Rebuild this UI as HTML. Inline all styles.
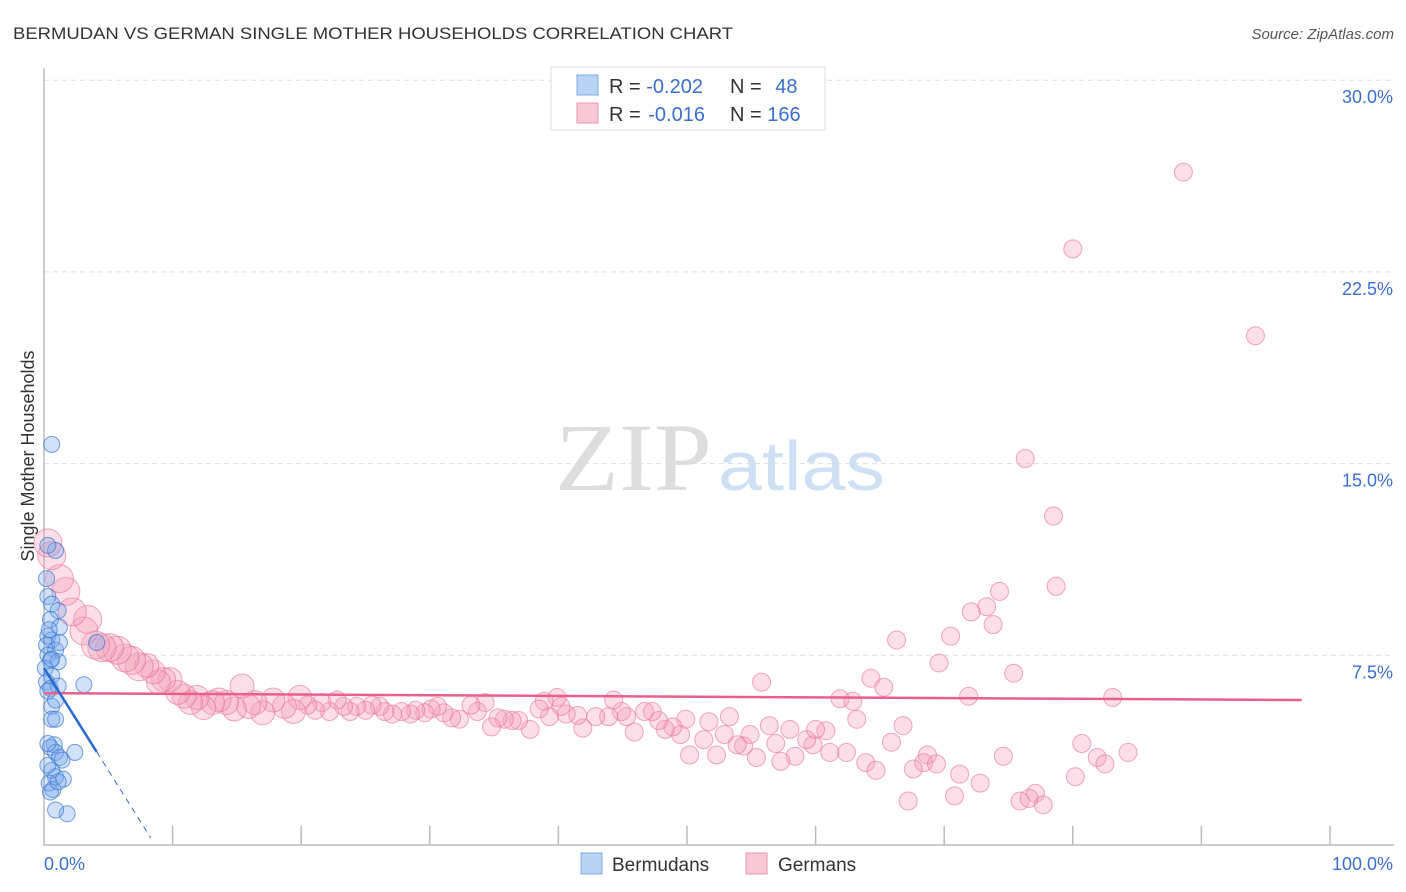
<!DOCTYPE html>
<html><head><meta charset="utf-8"><style>
body{margin:0;background:#fff;font-family:"Liberation Sans",sans-serif;}
svg{display:block}
</style></head><body>
<svg id="chart" width="1406" height="892" viewBox="0 0 1406 892" xmlns="http://www.w3.org/2000/svg">
<text x="13" y="39" font-size="17" fill="#333" textLength="720" lengthAdjust="spacingAndGlyphs" font-family="Liberation Sans, sans-serif">BERMUDAN VS GERMAN SINGLE MOTHER HOUSEHOLDS CORRELATION CHART</text>
<text x="1394" y="39" font-size="15" fill="#555" text-anchor="end" font-style="italic">Source: ZipAtlas.com</text>
<text x="555" y="490" font-size="96" fill="#ddd" textLength="157" lengthAdjust="spacingAndGlyphs" font-family="Liberation Serif, serif">ZIP</text>
<text x="718" y="490" font-size="70" fill="#cfe0f5" textLength="167" lengthAdjust="spacingAndGlyphs">atlas</text>
<g id="grid"></g>
<g id="axes"></g>
<text transform="translate(34,456) rotate(-90)" font-size="18" fill="#333" text-anchor="middle">Single Mother Households</text>
<g id="pink"></g>
<g id="blue"></g>
<g id="trend"></g>
<g>
<rect x="551" y="67" width="274" height="63" fill="#fff" stroke="#ddd"/>
<rect x="577" y="75" width="21" height="20" fill="#b9d3f5" stroke="#7fa8e0"/>
<rect x="577" y="103" width="21" height="20" fill="#f9c8d6" stroke="#eb94ad"/>
<text x="609" y="93" font-size="20" fill="#333">R = <tspan fill="#3a6fd0">-0.202</tspan></text>
<text x="730" y="93" font-size="20" fill="#333">N = <tspan fill="#3a6fd0" dx="8">48</tspan></text>
<text x="609" y="121" font-size="20" fill="#333">R = <tspan fill="#3a6fd0" dx="2">-0.016</tspan></text>
<text x="730" y="121" font-size="20" fill="#333">N = <tspan fill="#3a6fd0">166</tspan></text>
</g>
<g>
<rect x="581" y="853" width="21" height="21" fill="#b9d3f5" stroke="#7fa8e0"/>
<text x="612" y="871" font-size="19" fill="#333">Bermudans</text>
<rect x="746" y="853" width="21" height="21" fill="#f9c8d6" stroke="#eb94ad"/>
<text x="778" y="871" font-size="19" fill="#333">Germans</text>
</g>
</svg>
<script>
const yTicks=[7.5,15,22.5,30];
const yTickLabels=["7.5%","15.0%","22.5%","30.0%"];
const xTickLabels=["0.0%","100.0%"];
const germansX=[76.3,78.5,88.6,80.0,94.2,78.7,74.3,73.3,72.1,73.8,70.5,66.3,69.6,75.4,64.3,65.3,55.8,71.9,83.1,61.9,62.9,63.2,66.8,65.9,80.7,84.3,81.9,82.5,74.6,68.7,68.4,69.4,67.6,71.2,72.8,80.2,70.8,67.2,77.1,75.9,77.7,76.6,63.9,64.7,62.4,61.1,59.8,59.3,60.8,60.0,58.0,56.4,58.4,57.3,55.4,56.9,54.9,54.4,53.9,53.3,52.9,52.3,51.7,51.3,50.2,49.5,49.9,48.9,48.3,47.8,47.3,46.7,45.9,45.3,44.9,44.3,43.9,42.9,41.9,41.5,40.6,40.2,39.9,39.3,38.9,38.5,37.8,36.9,36.4,35.8,35.3,34.8,34.3,33.7,33.2,32.3,31.7,31.1,30.6,30.1,29.6,28.9,28.5,27.8,27.1,26.5,26.1,25.5,25.0,24.3,23.8,23.3,22.8,22.2,21.6,21.1,20.5,19.9,19.4,18.7,17.8,17.0,16.4,15.9,15.4,14.8,14.2,13.6,13.1,12.4,11.9,11.4,10.9,10.4,9.8,9.3,8.9,8.5,8.0,7.4,6.8,6.3,5.7,5.1,4.5,4.0,3.4,3.1,2.2,1.7,1.2,0.6,0.3];
const germansY=[15.2,12.95,26.4,23.4,20.0,10.2,10.0,9.4,9.2,8.7,8.25,8.1,7.2,6.8,6.6,6.25,6.45,5.9,5.85,5.8,5.7,5.0,4.75,4.1,4.05,3.7,3.5,3.25,3.55,3.6,3.3,3.25,3.05,2.85,2.5,2.75,2.0,1.8,2.1,1.8,1.65,1.9,3.3,3.0,3.7,3.7,4.0,4.2,4.55,4.6,4.6,4.75,3.55,3.35,3.5,4.05,4.4,3.95,4.0,5.1,4.4,3.6,4.9,4.2,3.6,4.4,5.0,4.7,4.6,4.95,5.3,5.3,4.5,5.1,5.3,5.75,5.1,5.1,4.65,5.15,5.2,5.5,5.85,5.1,5.7,5.4,4.6,4.95,4.95,5.0,5.05,4.7,5.65,5.3,5.55,5.0,5.05,5.25,5.5,5.4,5.25,5.35,5.2,5.3,5.2,5.3,5.5,5.55,5.35,5.5,5.3,5.5,5.75,5.3,5.65,5.35,5.55,5.85,5.3,5.5,5.75,5.25,5.65,5.5,6.3,5.4,5.65,5.75,5.65,5.45,5.85,5.65,5.9,6.05,6.55,6.55,6.45,6.85,7.1,7.05,7.3,7.4,7.7,7.8,7.8,7.9,8.9,8.45,9.2,10.0,10.5,11.4,11.9];
const bermX=[0.6,0.9,0.3,0.2,0.3,0.6,1.1,0.5,1.2,0.3,0.6,0.2,0.9,0.3,0.5,1.1,0.1,0.6,0.2,0.5,1.1,3.1,4.1,0.6,0.6,0.9,0.8,0.5,0.9,1.2,1.4,2.4,0.6,0.9,1.5,0.4,0.7,0.5,1.8,0.9,0.3,0.3,0.6,0.4,0.9,1.2,0.3,1.1];
const bermY=[15.75,11.6,11.8,10.5,9.8,9.5,9.25,8.9,8.6,8.25,8.1,7.9,7.7,7.5,7.3,7.25,7.0,6.7,6.45,6.2,6.3,6.35,8.0,5.5,5.0,5.0,4.0,3.9,3.7,3.5,3.4,3.7,3.0,2.75,2.65,2.5,2.25,2.15,1.3,1.45,4.05,6.1,7.35,8.5,5.75,8.0,3.2,2.55];
const germanTrend=[6.02,5.75];
const bermTrend=[7.0,-0.8];
const NS="http://www.w3.org/2000/svg";
const X0=44,X1=1330,YB=847,PXY=25.56;
function sx(p){return X0+p*(X1-X0)/100;}
function sy(v){return YB-v*PXY;}
function mk(tag,attrs,parent){const e=document.createElementNS(NS,tag);for(const k in attrs)e.setAttribute(k,attrs[k]);parent.appendChild(e);return e;}
const grid=document.getElementById('grid'),axes=document.getElementById('axes');
yTicks.forEach((v,i)=>{
 const l=mk('line',{x1:X0,x2:1392,y1:sy(v),y2:sy(v),stroke:'#ddd','stroke-dasharray':'5,4'},grid);
 
 
 const t=mk('text',{x:1393,y:sy(v)+23,'font-size':18,fill:'#3a6fd0','text-anchor':'end'},axes);
 t.textContent=yTickLabels[i];
 
 
});
const ax=mk('path',{d:`M${X0},68V845H1394`,stroke:'#bbb',fill:'none','stroke-width':1.5},axes);


for(let i=1;i<=10;i++){
 const tk=mk('line',{x1:sx(i*10),x2:sx(i*10),y1:826,y2:845,stroke:'#bbb','stroke-width':1.5},axes);
 
 
}
const xl0=mk('text',{x:44,y:870,'font-size':18,fill:'#3a6fd0'},axes);xl0.textContent=xTickLabels[0];


const xl1=mk('text',{x:1393,y:870,'font-size':18,fill:'#3a6fd0','text-anchor':'end'},axes);xl1.textContent=xTickLabels[1];


const pg=document.getElementById('pink');
germansX.forEach((x,i)=>{
 const r=x<20?(x<8?14:12):9;
 const c=mk('circle',{cx:sx(x),cy:sy(germansY[i]),r:r,fill:'rgba(244,160,185,0.35)',stroke:'rgba(232,110,150,0.6)','stroke-width':1},pg);
 
 
});
const bg=document.getElementById('blue');
bermX.forEach((x,i)=>{
 const c=mk('circle',{cx:sx(x),cy:sy(bermY[i]),r:8,fill:'rgba(120,170,235,0.35)',stroke:'rgba(60,120,210,0.7)','stroke-width':1},bg);
 
 
});
const tg=document.getElementById('trend');
const pl=mk('line',{x1:sx(0),y1:sy(germanTrend[0]),x2:sx(97.8),y2:sy(germanTrend[1]),stroke:'#e8608a','stroke-width':2.5},tg);


const bl=mk('line',{x1:sx(0),y1:sy(bermTrend[0]),x2:sx(4.1),y2:sy(bermTrend[0]+bermTrend[1]*4.1),stroke:'#2a6ad0','stroke-width':2.5},tg);


const bd=mk('line',{x1:sx(4.1),y1:sy(bermTrend[0]+bermTrend[1]*4.1),x2:sx(8.3),y2:sy(bermTrend[0]+bermTrend[1]*8.3),stroke:'#2a6ad0','stroke-width':1,'stroke-dasharray':'6,5'},tg);


</script>
</body></html>
